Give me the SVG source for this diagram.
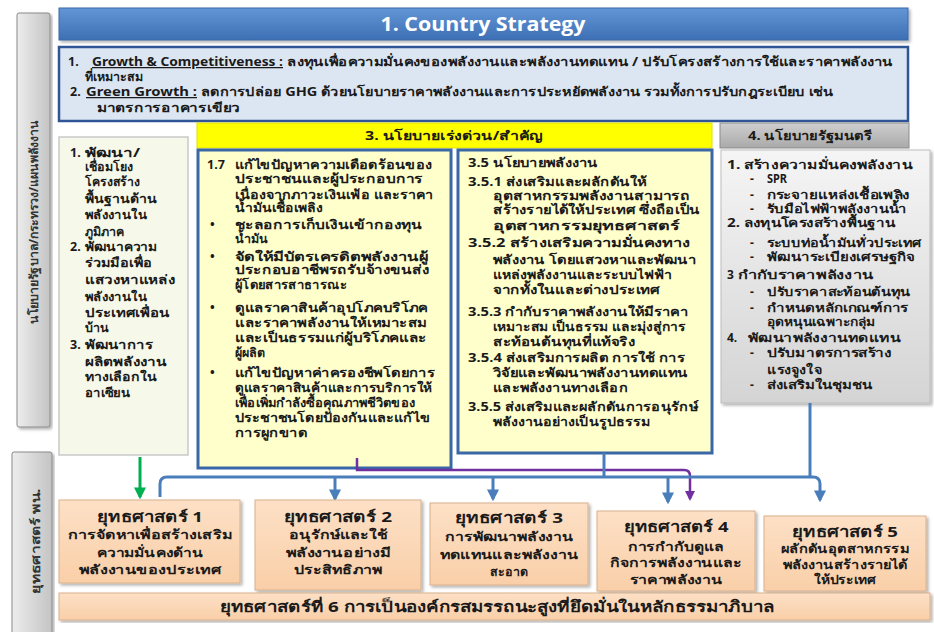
<svg xmlns="http://www.w3.org/2000/svg" width="934" height="632" viewBox="0 0 934 632">
  <defs>
    <style>
      .t { font-family: 'Noto Sans', 'DejaVu Sans', sans-serif; font-weight: bold; fill: #1a1a1a; font-size: 12.5px; }
      .s { font-size: 12px; }
      .c { text-anchor: middle; }
      .ttl { font-size: 15px; }
      .sub { font-size: 12.5px; }
      .u { text-decoration: underline; }
      .lbl { font-size: 12px; fill: #333; }
      .strat { fill: url(#peach); stroke: #d9b08c; stroke-width: 1; filter: url(#sh); }
      .pbox { fill: #ffffcc; stroke: #3a67a6; stroke-width: 3; }
      .side { fill: url(#grayH); stroke: #8a8a8a; stroke-width: 1; filter: url(#sh); }
      .blue { fill: none; stroke: #4a7ebb; stroke-width: 3; }
      .green { fill: none; stroke: #00b050; stroke-width: 3; }
      .purple { fill: none; stroke: #7030a0; stroke-width: 2.5; }
    </style>
    <linearGradient id="hdr" x1="0" y1="0" x2="0" y2="1">
      <stop offset="0" stop-color="#6396d6"/>
      <stop offset="1" stop-color="#3d6fb4"/>
    </linearGradient>
    <linearGradient id="peach" x1="0" y1="0" x2="0" y2="1">
      <stop offset="0" stop-color="#fde0c6"/>
      <stop offset="1" stop-color="#f9cfa8"/>
    </linearGradient>
    <linearGradient id="grayH" x1="0" y1="0" x2="1" y2="0">
      <stop offset="0" stop-color="#ededed"/>
      <stop offset="1" stop-color="#c4c4c4"/>
    </linearGradient>
    <linearGradient id="grayV" x1="0" y1="0" x2="0" y2="1">
      <stop offset="0" stop-color="#f5f5f5"/>
      <stop offset="1" stop-color="#d4d4d4"/>
    </linearGradient>
    <linearGradient id="grayHd" x1="0" y1="0" x2="0" y2="1">
      <stop offset="0" stop-color="#cfcfcf"/>
      <stop offset="1" stop-color="#a9a9a9"/>
    </linearGradient>
    <filter id="sh" x="-5%" y="-5%" width="112%" height="115%">
      <feDropShadow dx="2" dy="2" stdDeviation="1.5" flood-color="#000" flood-opacity="0.3"/>
    </filter>
    <marker id="ab" viewBox="0 0 10 10" refX="8" refY="5" markerWidth="4" markerHeight="4" orient="auto" markerUnits="strokeWidth">
      <path d="M0,0 L10,5 L0,10 z" fill="#4a7ebb"/>
    </marker>
    <marker id="ag" viewBox="0 0 10 10" refX="8" refY="5" markerWidth="4" markerHeight="4" orient="auto" markerUnits="strokeWidth">
      <path d="M0,0 L10,5 L0,10 z" fill="#00b050"/>
    </marker>
    <marker id="ap" viewBox="0 0 10 10" refX="8" refY="5" markerWidth="4" markerHeight="4" orient="auto" markerUnits="strokeWidth">
      <path d="M0,0 L10,5 L0,10 z" fill="#7030a0"/>
    </marker>
  </defs>

  <rect width="934" height="632" fill="#ffffff"/>

  <!-- side labels -->
  <g id="side-policy">
    <rect class="side" x="17" y="13" width="33" height="414" rx="2"/>
    <text class="t lbl c" transform="translate(38,222) rotate(-90)" textLength="203" lengthAdjust="spacingAndGlyphs">นโยบายรัฐบาล/กระทรวง/แผนพลังงาน</text>
  </g>
  <g id="side-strategy">
    <rect class="side" x="12" y="452" width="40" height="185" rx="2"/>
    <text class="t lbl c" transform="translate(40,541) rotate(-90)" textLength="105" lengthAdjust="spacingAndGlyphs">ยุทธศาสตร์ พน.</text>
  </g>

  <!-- 1. Country Strategy -->
  <g id="country-strategy">
    <rect x="59" y="8" width="849" height="32" fill="url(#hdr)" stroke="#3a6aa8" stroke-width="1" filter="url(#sh)"/>
    <text x="483" y="31" text-anchor="middle" font-family="'Open Sans', 'Liberation Sans', sans-serif" font-weight="bold" font-size="20" fill="#ffffff" textLength="205" lengthAdjust="spacingAndGlyphs">1. Country Strategy</text>
  </g>

  <g id="growth">
    <rect x="59" y="47" width="849" height="74" fill="#dce6f2" stroke="#2f5597" stroke-width="2.5"/>
    <g class="t">
      <text x="68" y="66">1.</text>
      <text class="u" x="92" y="66" textLength="191" lengthAdjust="spacingAndGlyphs">Growth &amp; Competitiveness :</text>
      <text x="287" y="66" textLength="606" lengthAdjust="spacingAndGlyphs">ลงทุนเพื่อความมั่นคงของพลังงานและพลังงานทดแทน / ปรับโครงสร้างการใช้และราคาพลังงาน</text>
      <text x="85" y="81">ที่เหมาะสม</text>
      <text x="70" y="96">2.</text>
      <text class="u" x="86" y="96" textLength="111" lengthAdjust="spacingAndGlyphs">Green Growth :</text>
      <text x="201" y="96" textLength="632" lengthAdjust="spacingAndGlyphs">ลดการปล่อย GHG ด้วยนโยบายราคาพลังงานและการประหยัดพลังงาน รวมทั้งการปรับกฎระเบียบ เช่น</text>
      <text x="97" y="112" textLength="143" lengthAdjust="spacingAndGlyphs">มาตรการอาคารเขียว</text>
    </g>
  </g>

  <!-- 2. regional -->
  <g id="regional">
    <rect x="59" y="137" width="129" height="318" fill="#f6f8e9" stroke="#c9c9c9" stroke-width="1.5"/>
    <g class="t">
      <text x="70" y="157">1.</text><text x="85" y="157" textLength="55" lengthAdjust="spacingAndGlyphs">พัฒนา/</text>
      <text x="85" y="171" textLength="48" lengthAdjust="spacingAndGlyphs">เชื่อมโยง</text>
      <text x="85" y="186" textLength="55" lengthAdjust="spacingAndGlyphs">โครงสร้าง</text>
      <text x="85" y="203" textLength="72" lengthAdjust="spacingAndGlyphs">พื้นฐานด้าน</text>
      <text x="85" y="219" textLength="62" lengthAdjust="spacingAndGlyphs">พลังงานใน</text>
      <text x="85" y="236">ภูมิภาค</text>
      <text x="70" y="251">2.</text><text x="85" y="251" textLength="72" lengthAdjust="spacingAndGlyphs">พัฒนาความ</text>
      <text x="85" y="267" textLength="67" lengthAdjust="spacingAndGlyphs">ร่วมมือเพื่อ</text>
      <text x="85" y="284" textLength="90" lengthAdjust="spacingAndGlyphs">แสวงหาแหล่ง</text>
      <text x="85" y="301" textLength="62" lengthAdjust="spacingAndGlyphs">พลังงานใน</text>
      <text x="85" y="317" textLength="85" lengthAdjust="spacingAndGlyphs">ประเทศเพื่อน</text>
      <text x="85" y="332">บ้าน</text>
      <text x="70" y="349">3.</text><text x="85" y="349" textLength="68" lengthAdjust="spacingAndGlyphs">พัฒนาการ</text>
      <text x="85" y="366" textLength="82" lengthAdjust="spacingAndGlyphs">ผลิตพลังงาน</text>
      <text x="85" y="381" textLength="72" lengthAdjust="spacingAndGlyphs">ทางเลือกใน</text>
      <text x="85" y="397" textLength="45" lengthAdjust="spacingAndGlyphs">อาเซียน</text>
    </g>
  </g>

  <!-- 3. urgent policy -->
  <g id="urgent-header">
    <rect x="197" y="123" width="515" height="25" fill="#ffff00" stroke="#e0e000" stroke-width="1"/>
    <text class="t c" x="454" y="140" font-size="13" textLength="178" lengthAdjust="spacingAndGlyphs">3. นโยบายเร่งด่วน/สำคัญ</text>
  </g>

  <g id="policy-1-7">
    <rect class="pbox" x="198" y="150" width="253" height="318"/>
    <g class="t">
      <text x="207" y="169">1.7</text><text x="235" y="169" textLength="197" lengthAdjust="spacingAndGlyphs">แก้ไขปัญหาความเดือดร้อนของ</text>
      <text x="235" y="183" textLength="188" lengthAdjust="spacingAndGlyphs">ประชาชนและผู้ประกอบการ</text>
      <text x="235" y="199" textLength="198" lengthAdjust="spacingAndGlyphs">เนื่องจากภาวะเงินเฟ้อ และราคา</text>
      <text x="235" y="212" textLength="88" lengthAdjust="spacingAndGlyphs">น้ำมันเชื้อเพลิง</text>
      <text x="210" y="229">•</text><text x="235" y="229" textLength="187" lengthAdjust="spacingAndGlyphs">ชะลอการเก็บเงินเข้ากองทุน</text>
      <text x="235" y="243">น้ำมัน</text>
      <text x="210" y="261">•</text><text x="235" y="261" textLength="193" lengthAdjust="spacingAndGlyphs">จัดให้มีบัตรเครดิตพลังงานผู้</text>
      <text x="235" y="274" textLength="194" lengthAdjust="spacingAndGlyphs">ประกอบอาชีพรถรับจ้างขนส่ง</text>
      <text x="235" y="289" textLength="112" lengthAdjust="spacingAndGlyphs">ผู้โดยสารสาธารณะ</text>
      <text x="210" y="312">•</text><text x="235" y="312" textLength="193" lengthAdjust="spacingAndGlyphs">ดูแลราคาสินค้าอุปโภคบริโภค</text>
      <text x="235" y="327" textLength="192" lengthAdjust="spacingAndGlyphs">และราคาพลังงานให้เหมาะสม</text>
      <text x="235" y="342" textLength="192" lengthAdjust="spacingAndGlyphs">และเป็นธรรมแก่ผู้บริโภคและ</text>
      <text x="235" y="357">ผู้ผลิต</text>
      <text x="210" y="377">•</text><text x="235" y="377" textLength="200" lengthAdjust="spacingAndGlyphs">แก้ไขปัญหาค่าครองชีพโดยการ</text>
      <text x="235" y="392" textLength="197" lengthAdjust="spacingAndGlyphs">ดูแลราคาสินค้าและการบริการให้</text>
      <text x="235" y="407" textLength="180" lengthAdjust="spacingAndGlyphs">เพื่อเพิ่มกำลังซื้อคุณภาพชีวิตของ</text>
      <text x="235" y="422" textLength="195" lengthAdjust="spacingAndGlyphs">ประชาชนโดยป้องกันและแก้ไข</text>
      <text x="235" y="437" textLength="72" lengthAdjust="spacingAndGlyphs">การผูกขาด</text>
    </g>
  </g>

  <g id="policy-3-5">
    <rect class="pbox" x="458" y="150" width="254" height="303"/>
    <g class="t">
      <text x="468" y="167" textLength="130" lengthAdjust="spacingAndGlyphs">3.5 นโยบายพลังงาน</text>
      <text x="468" y="186" textLength="179" lengthAdjust="spacingAndGlyphs">3.5.1 ส่งเสริมและผลักดันให้</text>
      <text x="493" y="200" textLength="197" lengthAdjust="spacingAndGlyphs">อุตสาหกรรมพลังงานสามารถ</text>
      <text x="493" y="214" textLength="207" lengthAdjust="spacingAndGlyphs">สร้างรายได้ให้ประเทศ ซึ่งถือเป็น</text>
      <text x="493" y="230" textLength="187" lengthAdjust="spacingAndGlyphs">อุตสาหกรรมยุทธศาสตร์</text>
      <text x="468" y="247" textLength="222" lengthAdjust="spacingAndGlyphs">3.5.2 สร้างเสริมความมั่นคงทาง</text>
      <text x="493" y="264" textLength="203" lengthAdjust="spacingAndGlyphs">พลังงาน โดยแสวงหาและพัฒนา</text>
      <text x="493" y="279" textLength="179" lengthAdjust="spacingAndGlyphs">แหล่งพลังงานและระบบไฟฟ้า</text>
      <text x="493" y="294" textLength="167" lengthAdjust="spacingAndGlyphs">จากทั้งในและต่างประเทศ</text>
      <text x="468" y="316" textLength="220" lengthAdjust="spacingAndGlyphs">3.5.3 กำกับราคาพลังงานให้มีราคา</text>
      <text x="493" y="331" textLength="193" lengthAdjust="spacingAndGlyphs">เหมาะสม เป็นธรรม และมุ่งสู่การ</text>
      <text x="493" y="346" textLength="142" lengthAdjust="spacingAndGlyphs">สะท้อนต้นทุนที่แท้จริง</text>
      <text x="468" y="362" textLength="217" lengthAdjust="spacingAndGlyphs">3.5.4 ส่งเสริมการผลิต การใช้ การ</text>
      <text x="493" y="377" textLength="195" lengthAdjust="spacingAndGlyphs">วิจัยและพัฒนาพลังงานทดแทน</text>
      <text x="493" y="392" textLength="135" lengthAdjust="spacingAndGlyphs">และพลังงานทางเลือก</text>
      <text x="468" y="411" textLength="230" lengthAdjust="spacingAndGlyphs">3.5.5 ส่งเสริมและผลักดันการอนุรักษ์</text>
      <text x="493" y="426" textLength="157" lengthAdjust="spacingAndGlyphs">พลังงานอย่างเป็นรูปธรรม</text>
    </g>
  </g>

  <!-- 4. minister policy -->
  <g id="minister-header">
    <rect x="720" y="123" width="189" height="25" fill="url(#grayHd)" stroke="#8c8c8c" stroke-width="1"/>
    <text class="t c" x="810" y="140" font-size="13" textLength="124" lengthAdjust="spacingAndGlyphs">4. นโยบายรัฐมนตรี</text>
  </g>

  <g id="minister-policy">
    <rect x="721" y="150" width="209" height="253" fill="url(#grayV)" stroke="#bdbdbd" stroke-width="1" filter="url(#sh)"/>
    <g class="t s">
      <text x="727" y="169" textLength="185" lengthAdjust="spacingAndGlyphs">1. สร้างความมั่นคงพลังงาน</text>
      <text x="750" y="183">-</text><text x="767" y="183" textLength="20" lengthAdjust="spacingAndGlyphs">SPR</text>
      <text x="750" y="199">-</text><text x="767" y="199" textLength="143" lengthAdjust="spacingAndGlyphs">กระจายแหล่งเชื้อเพลิง</text>
      <text x="750" y="213">-</text><text x="767" y="213" textLength="140" lengthAdjust="spacingAndGlyphs">รับมือไฟฟ้าพลังงานน้ำ</text>
      <text x="727" y="227" textLength="168" lengthAdjust="spacingAndGlyphs">2. ลงทุนโครงสร้างพื้นฐาน</text>
      <text x="750" y="247">-</text><text x="767" y="247" textLength="155" lengthAdjust="spacingAndGlyphs">ระบบท่อน้ำมันทั่วประเทศ</text>
      <text x="750" y="261">-</text><text x="767" y="261" textLength="148" lengthAdjust="spacingAndGlyphs">พัฒนาระเบียงเศรษฐกิจ</text>
      <text x="727" y="279">3</text><text x="738" y="279" textLength="135" lengthAdjust="spacingAndGlyphs">กำกับราคาพลังงาน</text>
      <text x="750" y="296">-</text><text x="767" y="296" textLength="143" lengthAdjust="spacingAndGlyphs">ปรับราคาสะท้อนต้นทุน</text>
      <text x="750" y="312">-</text><text x="767" y="312" textLength="141" lengthAdjust="spacingAndGlyphs">กำหนดหลักเกณฑ์การ</text>
      <text x="767" y="326" textLength="108" lengthAdjust="spacingAndGlyphs">อุดหนุนเฉพาะกลุ่ม</text>
      <text x="727" y="342">4.</text><text x="748" y="342" textLength="152" lengthAdjust="spacingAndGlyphs">พัฒนาพลังงานทดแทน</text>
      <text x="750" y="357">-</text><text x="767" y="357" textLength="125" lengthAdjust="spacingAndGlyphs">ปรับมาตรการสร้าง</text>
      <text x="767" y="374" textLength="55" lengthAdjust="spacingAndGlyphs">แรงจูงใจ</text>
      <text x="750" y="389">-</text><text x="767" y="389" textLength="105" lengthAdjust="spacingAndGlyphs">ส่งเสริมในชุมชน</text>
    </g>
  </g>

  <!-- connectors -->
  <g id="connectors">
    <path class="green" d="M140,457 V497" marker-end="url(#ag)"/>
    <path class="purple" d="M357,458 V470 H684 Q690,470 690,476 V499" marker-end="url(#ap)"/>
    <path class="blue" d="M604,453 V477"/>
    <path class="blue" d="M810,403 V477"/>
    <path class="blue" d="M160,497 V484 Q160,477 167,477 H813 Q820,477 820,484 V500" marker-end="url(#ab)"/>
    <path class="blue" d="M335,477 V499" marker-end="url(#ab)"/>
    <path class="blue" d="M493,477 V499" marker-end="url(#ab)"/>
    <path class="blue" d="M668,477 V502" marker-end="url(#ab)"/>
  </g>

  <!-- strategies -->
  <g id="strategy-1">
    <rect class="strat" x="59" y="500" width="181" height="83"/>
    <text class="t ttl c" x="150" y="522" textLength="106" lengthAdjust="spacingAndGlyphs">ยุทธศาสตร์ 1</text>
    <text class="t sub c" x="150" y="539" textLength="164" lengthAdjust="spacingAndGlyphs">การจัดหาเพื่อสร้างเสริม</text>
    <text class="t sub c" x="150" y="557" textLength="106" lengthAdjust="spacingAndGlyphs">ความมั่นคงด้าน</text>
    <text class="t sub c" x="150" y="574" textLength="142" lengthAdjust="spacingAndGlyphs">พลังงานของประเทศ</text>
  </g>
  <g id="strategy-2">
    <rect class="strat" x="255" y="500" width="166" height="90"/>
    <text class="t ttl c" x="338" y="522" textLength="108" lengthAdjust="spacingAndGlyphs">ยุทธศาสตร์ 2</text>
    <text class="t sub c" x="338" y="539" textLength="98" lengthAdjust="spacingAndGlyphs">อนุรักษ์และใช้</text>
    <text class="t sub c" x="338" y="557" textLength="105" lengthAdjust="spacingAndGlyphs">พลังงานอย่างมี</text>
    <text class="t sub c" x="338" y="574" textLength="88" lengthAdjust="spacingAndGlyphs">ประสิทธิภาพ</text>
  </g>
  <g id="strategy-3">
    <rect class="strat" x="430" y="503" width="158" height="82"/>
    <text class="t ttl c" x="509" y="523" textLength="108" lengthAdjust="spacingAndGlyphs">ยุทธศาสตร์ 3</text>
    <text class="t sub c" x="509" y="541" textLength="128" lengthAdjust="spacingAndGlyphs">การพัฒนาพลังงาน</text>
    <text class="t sub c" x="509" y="559" textLength="138" lengthAdjust="spacingAndGlyphs">ทดแทนและพลังงาน</text>
    <text class="t sub c" x="509" y="576">สะอาด</text>
  </g>
  <g id="strategy-4">
    <rect class="strat" x="597" y="511" width="158" height="80"/>
    <text class="t ttl c" x="676" y="532" textLength="105" lengthAdjust="spacingAndGlyphs">ยุทธศาสตร์ 4</text>
    <text class="t sub c" x="676" y="551" textLength="97" lengthAdjust="spacingAndGlyphs">การกำกับดูแล</text>
    <text class="t sub c" x="676" y="567" textLength="132" lengthAdjust="spacingAndGlyphs">กิจการพลังงานและ</text>
    <text class="t sub c" x="676" y="584" textLength="93" lengthAdjust="spacingAndGlyphs">ราคาพลังงาน</text>
  </g>
  <g id="strategy-5">
    <rect class="strat" x="764" y="516" width="162" height="75"/>
    <text class="t ttl c" x="845" y="537" textLength="106" lengthAdjust="spacingAndGlyphs">ยุทธศาสตร์ 5</text>
    <text class="t sub c" x="845" y="553" textLength="128" lengthAdjust="spacingAndGlyphs">ผลักดันอุตสาหกรรม</text>
    <text class="t sub c" x="845" y="569" textLength="125" lengthAdjust="spacingAndGlyphs">พลังงานสร้างรายได้</text>
    <text class="t sub c" x="845" y="584" textLength="62" lengthAdjust="spacingAndGlyphs">ให้ประเทศ</text>
  </g>
  <g id="strategy-6">
    <rect class="strat" x="59" y="593" width="871" height="27"/>
    <text class="t ttl c" x="497" y="612" textLength="555" lengthAdjust="spacingAndGlyphs">ยุทธศาสตร์ที่ 6 การเป็นองค์กรสมรรถนะสูงที่ยึดมั่นในหลักธรรมาภิบาล</text>
  </g>
</svg>
